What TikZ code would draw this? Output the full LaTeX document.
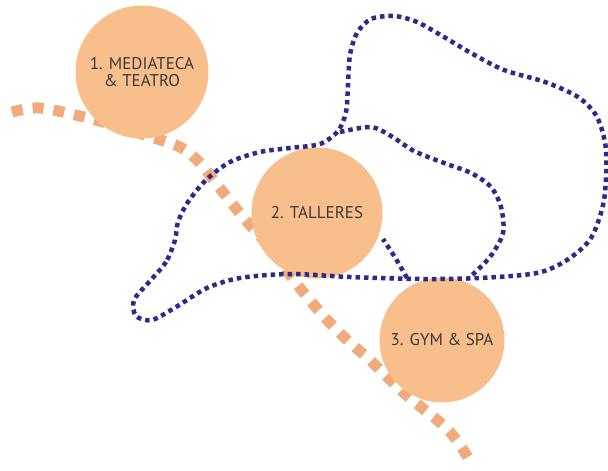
\documentclass[tikz,border=0pt]{standalone}
\usepackage{fontspec}
\setmainfont{PT Sans}
\definecolor{circfill}{HTML}{F8BF8D}
\definecolor{pathorange}{HTML}{F0AA7C}
\definecolor{loopblue}{HTML}{2C2B8C}
\definecolor{labeltext}{HTML}{3A3A3A}
\tikzset{
    zone/.style={circle, fill=circfill, minimum size=#1, inner sep=0pt,
        text=labeltext, align=center, font=\fontsize{17}{17.5}\selectfont},
    walkway/.style={pathorange, line width=11pt, dash pattern=on 11pt off 10pt},
    border/.style={loopblue, line width=4.5pt, dash pattern=on 4.5pt off 4pt}
}
\begin{document}
\begin{tikzpicture}[x=1pt,y=-1pt]
        \useasboundingbox (0,0) rectangle (608,471);
        \draw[walkway] plot[smooth] coordinates {(12,112) (40,108) (88,118) (135,132) (180,147) (200,163) (215,182) (243,217) (272,250) (296,283) (320,312) (345,338) (371,361) (404,393) (442,424) (458,442) (472,464)};
        \node[zone=133pt] (mediateca) at (142,72) {1. MEDIATECA\\\& TEATRO};
        \node[zone=131pt] (talleres) at (317,213) {2. TALLERES};
        \node[zone=125pt] (gym) at (442,340) {3. GYM \& SPA};
        \draw[border] plot[smooth cycle] coordinates {(175,240) (166,262) (150,281) (134,300) (136,316) (152,320) (176,307) (207,288) (240,278) (290,274) (350,277) (420,279) (480,278) (537,273) (567,260) (591,238) (604,200) (606,150) (597,117) (578,97) (545,82) (504,70) (471,53) (444,37) (417,22) (394,16) (371,19) (357,33) (350,55) (348,85) (346,112) (338,131) (320,144) (290,148) (260,152) (230,162) (206,180) (188,202) (178,222)};
        \draw[border] plot[smooth] coordinates {(340,132) (371,127) (391,136) (414,151) (444,163) (471,173) (491,187) (501,207) (503,233) (490,257) (470,277)};
        \draw[border] plot[smooth] coordinates {(407,278) (396,259) (383,239)};
\end{tikzpicture}
\end{document}
